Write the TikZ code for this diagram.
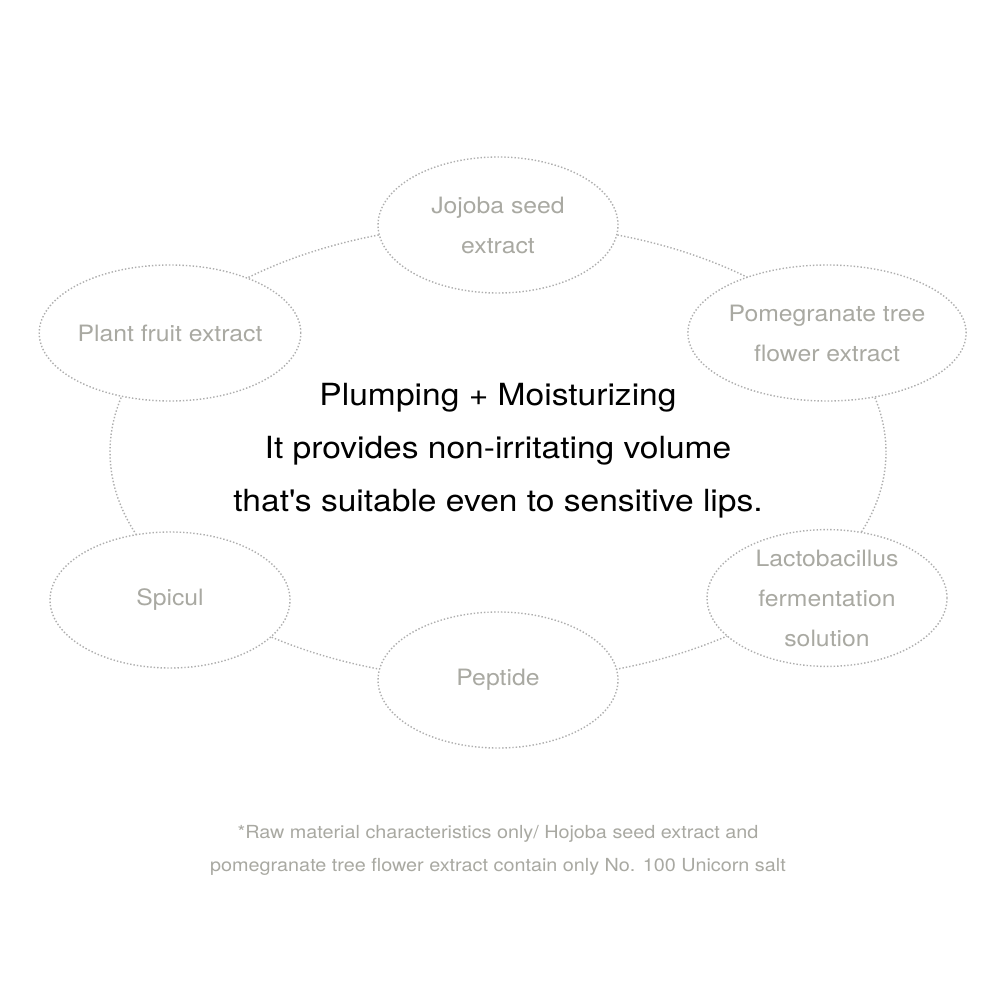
\documentclass[tikz,border=0pt]{standalone}
\usepackage{fontspec}
\setmainfont[FakeStretch=1.1]{TeX Gyre Heros}
\definecolor{lab}{HTML}{A9A9A2}
\definecolor{dot}{HTML}{AEAEAE}
\tikzset{x=1pt,y=-1pt,
 ing/.style={ellipse,draw=dot,dotted,line width=1.4pt,fill=white,minimum width=240pt,minimum height=136pt,inner sep=0pt,align=center,text=lab,font=\fontsize{22.5}{40}\selectfont},
 ring/.style={draw=dot,dotted,line width=1.4pt}}
\usetikzlibrary{shapes.geometric}
\begin{document}
\begin{tikzpicture}
\useasboundingbox[fill=white] (0,0) rectangle (1000,1000);
\draw[ring] (498,452) ellipse [x radius=388pt, y radius=228pt];
\node[ing] (j) at (498,225) {Jojoba seed\\extract};
\node[ing] (p) at (827,333) {Pomegranate tree\\flower extract};
\node[ing] (f) at (170,333) {Plant fruit extract};
\node[ing] (s) at (170,600) {Spicul};
\node[ing] (e) at (498,680) {Peptide};
\node[ing] (l) at (827,598) {Lactobacillus\\fermentation\\solution};
\node[align=center,font=\fontsize{30.5}{53}\selectfont] (c) at (498,451) {Plumping + Moisturizing\\It provides non-irritating volume\\that\textquotesingle s suitable even to sensitive lips.};
\node[align=center,text=lab,font=\fontsize{18}{33}\selectfont] (n) at (498,850) {*Raw material characteristics only/ Hojoba seed extract and\\pomegranate tree flower extract contain only No. 100 Unicorn salt};
\end{tikzpicture}
\end{document}
